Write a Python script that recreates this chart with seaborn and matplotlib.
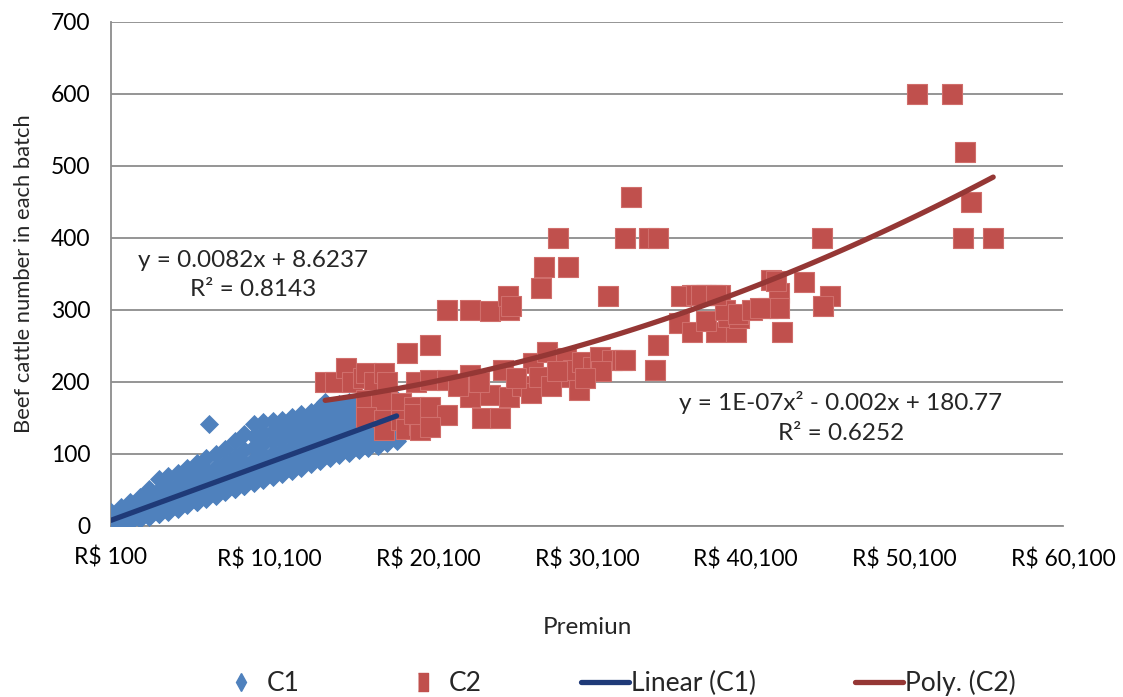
import numpy as np
import pandas as pd
import matplotlib
matplotlib.use("Agg")
import matplotlib.pyplot as plt
from matplotlib.lines import Line2D
from matplotlib.ticker import FuncFormatter
import seaborn as sns

# ---------------- data ----------------
# C1: premium columns and the cattle numbers seen in each column
c1_cols = [100, 700, 1300, 1900, 2500, 3100, 3700, 4300, 4900, 5500,
           6100, 6300, 6700, 7300, 7900, 8500, 9100, 9700, 10300, 10900,
           11500, 12100, 12700, 13300, 13600, 13900, 14500, 15100, 15700,
           16300, 16900, 17500, 18100]
c1_vals = [
    [2, 4, 6, 9, 12, 15, 19],
    [4, 5, 8, 11, 14, 17, 20, 26],
    [6, 7, 10, 13, 16, 19, 22, 27, 33],
    [10, 11, 13, 14, 16, 19, 22, 25, 28, 34, 40],
    [13, 14, 16, 17, 19, 22, 25, 28, 31, 34, 42, 52],
    [16, 17, 19, 20, 22, 25, 28, 31, 34, 37, 40, 50, 65],
    [20, 21, 23, 24, 26, 29, 32, 35, 38, 41, 44, 54, 69],
    [24, 25, 27, 28, 30, 33, 36, 39, 42, 45, 48, 50, 58, 74],
    [29, 30, 32, 33, 35, 38, 41, 44, 47, 50, 53, 56, 66, 80],
    [33, 34, 36, 37, 39, 42, 45, 48, 51, 54, 57, 60, 72, 88],
    [38, 39, 41, 42, 44, 47, 50, 53, 56, 59, 62, 65, 78, 95],
    [142],
    [42, 43, 45, 46, 48, 51, 54, 57, 60, 63, 66, 69, 82, 100],
    [47, 48, 50, 51, 53, 56, 59, 62, 65, 68, 71, 74, 88, 107],
    [51, 52, 54, 55, 57, 60, 63, 66, 69, 72, 75, 78, 81, 96, 118],
    [55, 56, 58, 59, 61, 64, 67, 70, 73, 76, 79, 82, 85, 88, 105, 128],
    [60, 61, 62, 63, 65, 66, 69, 70, 72, 75, 78, 81, 84, 87, 90, 93, 110, 125, 142],
    [64, 65, 66, 67, 68, 71, 74, 77, 80, 83, 86, 89, 92, 95, 98, 114, 129, 145],
    [68, 70, 72, 75, 78, 81, 84, 87, 90, 93, 96, 99, 102, 118, 132, 146],
    [72, 74, 76, 79, 82, 85, 88, 91, 94, 97, 100, 103, 106, 121, 134, 147],
    [76, 78, 80, 83, 86, 89, 92, 95, 98, 101, 104, 107, 110, 125, 138, 151],
    [81, 83, 85, 88, 91, 94, 97, 100, 103, 106, 109, 112, 115, 129, 142, 155],
    [86, 88, 90, 93, 96, 99, 102, 105, 108, 111, 114, 117, 120, 133, 146, 158],
    [90, 92, 94, 97, 100, 103, 106, 109, 112, 115, 118, 121, 124, 138, 152, 165],
    [172],
    [94, 96, 98, 101, 104, 107, 110, 113, 116, 119, 122, 125, 128, 142, 155, 166],
    [98, 100, 102, 105, 108, 111, 114, 117, 120, 123, 126, 129, 132, 145, 158, 170],
    [101, 103, 105, 108, 111, 114, 117, 120, 123, 126, 129, 132, 135, 140, 148, 150, 160, 165, 168, 172],
    [105, 107, 109, 112, 115, 118, 121, 124, 127, 130, 133, 136, 139, 145, 152, 160, 163, 168, 175],
    [108, 110, 112, 115, 118, 121, 124, 127, 130, 133, 136, 139, 142, 148, 155, 160, 166, 170, 174, 178],
    [111, 113, 116, 119, 122, 125, 128, 131, 134, 137, 140, 143, 146, 152, 160, 165, 168, 170, 175, 180],
    [115, 117, 120, 123, 126, 129, 132, 135, 138, 141, 144, 148, 152, 158, 165, 166, 168, 170, 175, 178, 182],
    [118, 121, 124, 127, 131, 135, 140, 146, 152, 160, 165, 168, 170, 172, 175],
]

c2_x = [13600, 14200, 14900, 15300, 16000, 16200, 16700, 17300, 17500,
        16200, 17100, 16200, 17300, 17300,
        18400, 18400, 18700, 19200, 19500, 19600, 19200,
        18750, 20200, 19300, 20200, 21300, 20200, 21300, 20200,
        22700, 22700, 23500, 24000, 24600, 24800, 25200, 26000, 26600, 26700,
        27100, 27600, 28400, 28800, 29200, 29600, 29800, 30500, 30900, 31700,
        32300, 22000, 23300, 25600, 27800, 28200, 31000, 30000,
        21300, 22700, 24000, 25200, 25100, 25300,
        27200, 27400, 28900, 28300, 31400, 32500, 32900, 34000, 34600,
        34400, 34600, 32500,
        36700, 37600, 38500, 35900, 36700, 38200, 39500, 37600, 39000, 39700,
        38800, 39600, 36000, 37000, 38000, 40500, 37300, 38200,
        41700, 42200, 41500, 42200, 42400, 43800, 45400, 45000, 44900,
        41000, 42000,
        50900, 53100, 53900, 54300, 53800, 55700]
c2_y = [200, 200, 219, 200, 205, 212, 200, 212, 200,
        175, 175, 151, 147, 133,
        171, 147, 135, 165, 140, 133, 155,
        240, 251, 200, 203, 203, 165, 154, 138,
        210, 179, 150, 182, 150, 217, 179, 195, 185, 226,
        207, 242, 207, 233, 217, 189, 228, 221, 235, 230,
        231, 195, 200, 205, 195, 215, 215, 205,
        300, 300, 298, 300, 320, 305,
        330, 360, 360, 400, 320, 400, 457, 400, 400,
        217, 251, 230,
        321, 321, 321, 282, 270, 270, 270, 285, 290, 289,
        300, 295, 320, 321, 321, 300, 321, 321,
        342, 324, 303, 303, 270, 339, 319, 306, 400,
        303, 340,
        600, 600, 519, 450, 400, 400]

x_ticks = [100, 10100, 20100, 30100, 40100, 50100, 60100]
y_ticks = [0, 100, 200, 300, 400, 500, 600, 700]

eq1_lines = ["y = 0.0082x + 8.6237", "R² = 0.8143"]
eq2_lines = ["y = 1E-07x² - 0.002x + 180.77", "R² = 0.6252"]
legend_labels = ["C1", "C2", "Linear (C1)", "Poly. (C2)"]

# ---------------- build tables ----------------
rows = [(cx, v) for cx, vs in zip(c1_cols, c1_vals) for v in vs]
c1 = pd.DataFrame(rows, columns=["x", "y"])
c2 = pd.DataFrame({"x": c2_x, "y": c2_y})

BLUE = "#4F81BD"
RED = "#C0504D"
NAVY = "#1F3A78"
DRED = "#953735"
GRID = "#8C8C8C"

sns.set_theme(style="white")
plt.rcParams["font.family"] = ["Lato", "DejaVu Sans"]

fig = plt.figure(figsize=(11.23, 6.97), dpi=100)
ax = fig.add_axes([111 / 1123, 1 - 526 / 697, (1063 - 111) / 1123, (526 - 22) / 697])

sns.scatterplot(data=c1, x="x", y="y", marker="D", s=95, color=BLUE,
                edgecolor=BLUE, linewidth=0, ax=ax, zorder=3, legend=False)
sns.scatterplot(data=c2, x="x", y="y", marker="s", s=205, color=RED,
                edgecolor="#D06E6B", linewidth=0.8, ax=ax, zorder=4, legend=False)
sns.regplot(data=c1, x="x", y="y", scatter=False, ci=None, truncate=True,
            color=NAVY, line_kws=dict(lw=3.8, zorder=5, solid_capstyle="round"), ax=ax)
sns.regplot(data=c2, x="x", y="y", scatter=False, ci=None, truncate=True, order=2,
            color=DRED, line_kws=dict(lw=3.8, zorder=5, solid_capstyle="round"), ax=ax)

ax.set_xlim(100, 60100)
ax.set_ylim(0, 700)
ax.set_xticks(x_ticks)
ax.set_yticks(y_ticks)
ax.xaxis.set_major_formatter(FuncFormatter(lambda v, p: f"R$ {int(v):,}"))
ax.yaxis.grid(True, color=GRID, lw=1.3, zorder=0)
ax.xaxis.grid(False)
ax.set_axisbelow(True)
for s in ["top", "right"]:
    ax.spines[s].set_visible(False)
for s in ["left", "bottom"]:
    ax.spines[s].set_color(GRID)
    ax.spines[s].set_linewidth(1.3)
ax.tick_params(axis="both", length=0, labelsize=16.5, colors="black")
ax.tick_params(axis="y", pad=15)
ax.tick_params(axis="x", pad=15)
ax.set_xlabel("Premiun", fontsize=17.5, labelpad=34)
ax.set_ylabel("Beef cattle number in each batch", fontsize=15.8, labelpad=12)

ax.text(9050, 369, eq1_lines[0], fontsize=17.5, ha="center", va="center")
ax.text(9050, 328, eq1_lines[1], fontsize=17.5, ha="center", va="center")
ax.text(46100, 171, eq2_lines[0], fontsize=17.5, ha="center", va="center")
ax.text(46100, 129, eq2_lines[1], fontsize=17.5, ha="center", va="center")

rect = [(-0.28, -0.5), (0.28, -0.5), (0.28, 0.5), (-0.28, 0.5)]
handles = [
    Line2D([], [], ls="none", marker="d", ms=8.7, mfc=BLUE, mec=BLUE),
    Line2D([], [], ls="none", marker=rect, ms=12.5, mfc=RED, mec=RED),
    Line2D([], [], color=NAVY, lw=3.8),
    Line2D([], [], color=DRED, lw=3.8),
]
fig.legend(handles, legend_labels, loc="center",
           bbox_to_anchor=(0.549, 0.02), ncol=4, frameon=False, fontsize=19,
           handlelength=1.82, handletextpad=0.08, columnspacing=3.75)

fig.savefig("out.png", dpi=100)
